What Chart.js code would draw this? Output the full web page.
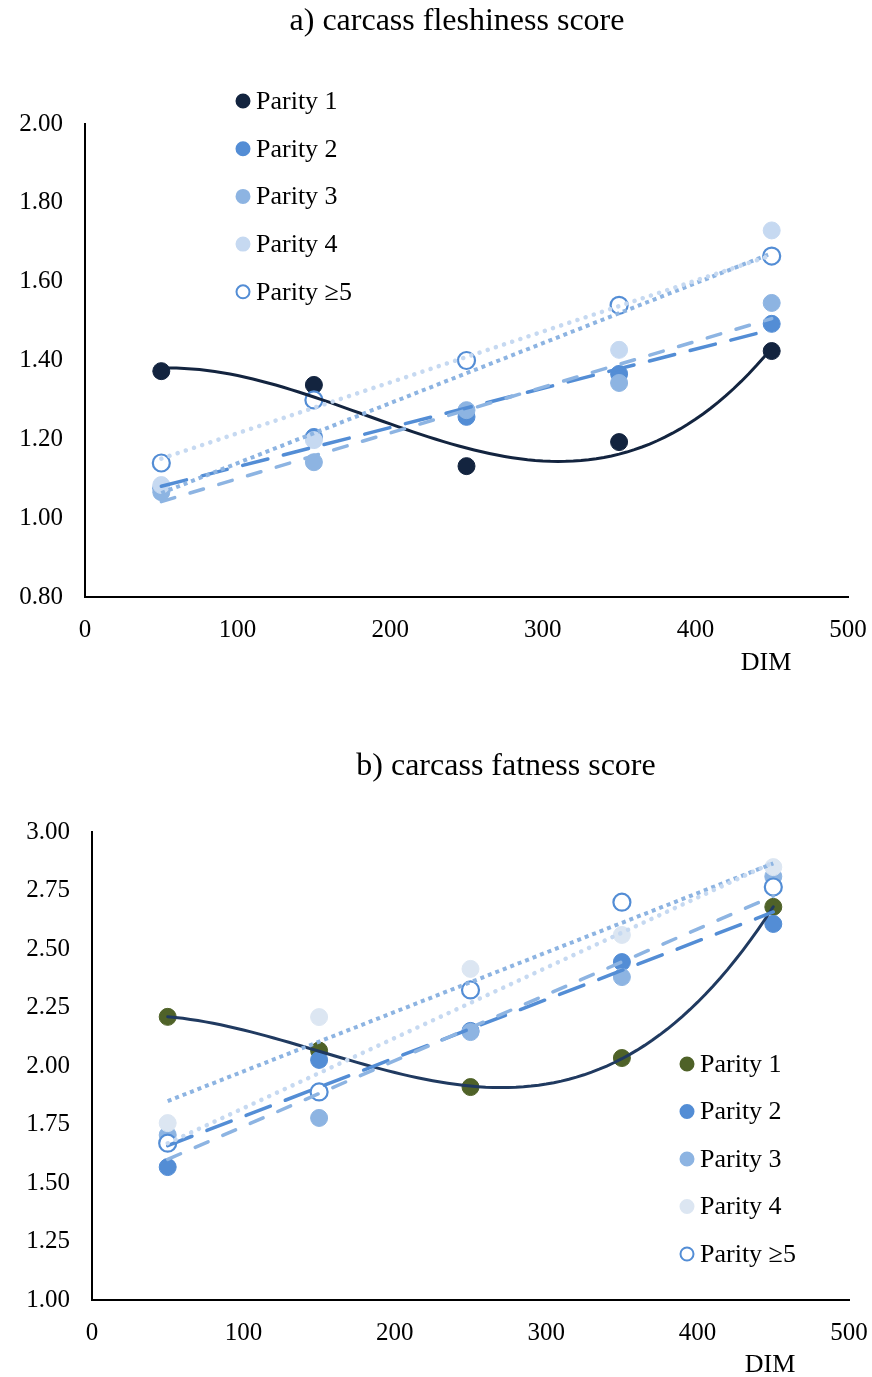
<!DOCTYPE html>
<html>
<head>
<meta charset="utf-8">
<script src="https://cdn.jsdelivr.net/npm/chart.js@4.4.1/dist/chart.umd.min.js"></script>
<style>
  body { margin: 0; background: #fff; }
  #wrap { position: relative; width: 872px; height: 1377px; }
  canvas { position: absolute; left: 0; }
  #fleshy { top: 0; }
  #fatness { top: 700px; }
</style>
</head>
<body>
<div id="wrap">
  <canvas id="fleshy" width="872" height="700"></canvas>
  <canvas id="fatness" width="872" height="677"></canvas>
</div>
<script>
// days in milk where each group was scored
var dim = [50, 150, 250, 350, 450];
var parityNames = ['Parity 1', 'Parity 2', 'Parity 3', 'Parity 4', 'Parity \u22655'];

// a) carcass fleshiness score
var fleshP1 = [1.373, 1.338, 1.132, 1.193, 1.424];
var fleshP2 = [1.076, 1.206, 1.257, 1.366, 1.493];
var fleshP3 = [1.066, 1.142, 1.274, 1.343, 1.546];
var fleshP4 = [1.084, 1.198, 1.400, 1.427, 1.730];
var fleshP5 = [1.140, 1.300, 1.400, 1.540, 1.665];

// b) carcass fatness score
var fatP1 = [2.210, 2.066, 1.910, 2.034, 2.680];
var fatP2 = [1.568, 2.026, 2.150, 2.444, 2.607];
var fatP3 = [1.705, 1.778, 2.145, 2.380, 2.810];
var fatP4 = [1.756, 2.209, 2.415, 2.560, 2.850];
var fatP5 = [1.670, 1.889, 2.325, 2.700, 2.765];

var FONT = '"Liberation Serif", "Times New Roman", serif';

// least squares polynomial fit (like an Excel trendline)
function polyFit(xs, ys, deg) {
    var n = deg + 1, A = [], b = [];
    for (var i = 0; i < n; i++) {
        A.push(new Array(n).fill(0));
        b.push(0);
    }
    xs.forEach(function (x, k) {
        var s = (x - 250) / 100;
        for (var i = 0; i < n; i++) {
            for (var j = 0; j < n; j++) A[i][j] += Math.pow(s, i + j);
            b[i] += Math.pow(s, i) * ys[k];
        }
    });
    for (var c = 0; c < n; c++) {
        for (var r = c + 1; r < n; r++) {
            var f = A[r][c] / A[c][c];
            for (var j = c; j < n; j++) A[r][j] -= f * A[c][j];
            b[r] -= f * b[c];
        }
    }
    var coef = new Array(n).fill(0);
    for (var r = n - 1; r >= 0; r--) {
        var sum = b[r];
        for (var j = r + 1; j < n; j++) sum -= A[r][j] * coef[j];
        coef[r] = sum / A[r][r];
    }
    return function (x) {
        var s = (x - 250) / 100, v = 0;
        for (var i = 0; i < n; i++) v += coef[i] * Math.pow(s, i);
        return v;
    };
}

function trendPoints(ys, deg) {
    var f = polyFit(dim, ys, deg);
    var pts = [];
    var step = deg === 1 ? 400 : 5;
    for (var x = dim[0]; x <= dim[dim.length - 1]; x += step) pts.push({x: x, y: f(x)});
    return pts;
}

function pts(ys) {
    return dim.map(function (x, i) { return {x: x, y: ys[i]}; });
}

function markers(label, ys, fill, edge, order) {
    return {
        label: label, data: pts(ys), order: order,
        backgroundColor: fill, borderColor: edge,
        pointRadius: 8.5, pointBorderWidth: edge === fill ? 1 : 2.2,
        pointHoverRadius: 8.5, showLine: false
    };
}

function trend(ys, deg, color, width, dash, cap, order) {
    return {
        trend: true, data: trendPoints(ys, deg), order: order,
        showLine: true, pointRadius: 0, borderColor: color, borderWidth: width,
        borderDash: dash, borderCapStyle: cap, tension: 0, fill: false
    };
}

// titles, axis caption and the in-plot legend
var extraText = {
    id: 'extraText',
    afterDraw: function (chart, args, opts) {
        var ctx = chart.ctx;
        ctx.save();
        ctx.textBaseline = 'middle';
        ctx.fillStyle = '#000';
        opts.items.forEach(function (it) {
            ctx.font = it.size + 'px ' + FONT;
            ctx.textAlign = 'center';
            ctx.fillText(it.text, it.x, it.y);
        });
        var lg = opts.legend, row = 0;
        ctx.font = lg.size + 'px ' + FONT;
        chart.data.datasets.forEach(function (ds) {
            if (ds.trend) return;
            var y = lg.y + row * lg.gap;
            ctx.beginPath();
            ctx.arc(lg.x, y, 6.5, 0, 2 * Math.PI);
            ctx.fillStyle = ds.backgroundColor;
            ctx.fill();
            ctx.lineWidth = 2;
            ctx.strokeStyle = ds.borderColor;
            ctx.stroke();
            ctx.fillStyle = '#000';
            ctx.textAlign = 'left';
            ctx.fillText(ds.label, lg.x + 13, y + 1);
            row++;
        });
        ctx.restore();
    }
};

function axes(yMin, yMax, yStep, yWidth, xHeight) {
    var tickFont = {family: FONT, size: 25};
    var line = {display: true, color: '#000', width: 2};
    return {
        x: {
            type: 'linear', min: 0, max: 500,
            ticks: {stepSize: 100, color: '#000', font: tickFont, padding: 18, maxRotation: 0},
            grid: {display: true, drawOnChartArea: false, drawTicks: false},
            border: line,
            afterFit: function (s) {
                s.height = xHeight;
                s.paddingLeft = 0;
                s.paddingRight = 0;
            }
        },
        y: {
            type: 'linear', min: yMin, max: yMax,
            ticks: {stepSize: yStep, color: '#000', font: tickFont, padding: 22,
                callback: function (v) { return Number(v).toFixed(2); }},
            grid: {display: true, drawOnChartArea: false, drawTicks: false},
            border: line,
            afterFit: function (s) { s.width = yWidth; }
        }
    };
}

var navyTop = '#13243F', olive = '#4F6228', navyBot = '#203A60';
var blue2 = '#538DD5', blue3 = '#8DB4E2', light4 = '#C6D9F1', pale4 = '#DCE6F2';

new Chart(document.getElementById('fleshy'), {
    type: 'scatter',
    data: {
        datasets: [
            markers(parityNames[0], fleshP1, navyTop, navyTop, 20),
            markers(parityNames[1], fleshP2, blue2, blue2, 19),
            markers(parityNames[2], fleshP3, blue3, blue3, 18),
            markers(parityNames[3], fleshP4, light4, light4, 17),
            markers(parityNames[4], fleshP5, '#ffffff', blue2, 16),
            trend(fleshP1, 3, navyTop, 3, [], 'round', 10),
            trend(fleshP2, 1, blue2, 3.5, [26, 16], 'round', 9),
            trend(fleshP3, 1, blue3, 3.5, [14, 16], 'round', 8),
            trend(fleshP4, 1, blue3, 4, [4, 4], 'butt', 7),
            trend(fleshP5, 1, light4, 4.5, [0.1, 8.5], 'round', 6)
        ]
    },
    options: {
        responsive: false,
        animation: false,
        layout: {autoPadding: false, padding: {top: 124, right: 24, left: 0, bottom: 0}},
        scales: axes(0.8, 2.0, 0.2, 85, 103),
        plugins: {
            legend: {display: false},
            tooltip: {enabled: false},
            extraText: {
                items: [
                    {text: 'a) carcass fleshiness score', x: 457, y: 22, size: 32},
                    {text: 'DIM', x: 766, y: 663, size: 26}
                ],
                legend: {x: 243, y: 101, gap: 47.7, size: 26}
            }
        }
    },
    plugins: [extraText]
});

new Chart(document.getElementById('fatness'), {
    type: 'scatter',
    data: {
        datasets: [
            markers(parityNames[0], fatP1, olive, olive, 20),
            markers(parityNames[1], fatP2, blue2, blue2, 19),
            markers(parityNames[2], fatP3, blue3, blue3, 18),
            markers(parityNames[3], fatP4, pale4, pale4, 17),
            markers(parityNames[4], fatP5, '#ffffff', blue2, 16),
            trend(fatP1, 3, navyBot, 3, [], 'round', 10),
            trend(fatP2, 1, blue2, 3.5, [26, 16], 'round', 9),
            trend(fatP3, 1, blue3, 3.5, [14, 16], 'round', 8),
            trend(fatP4, 1, blue3, 4, [4, 4], 'butt', 7),
            trend(fatP5, 1, light4, 4.5, [0.1, 8.5], 'round', 6)
        ]
    },
    options: {
        responsive: false,
        animation: false,
        layout: {autoPadding: false, padding: {top: 132, right: 23, left: 0, bottom: 0}},
        scales: axes(1.0, 3.0, 0.25, 92, 77),
        plugins: {
            legend: {display: false},
            tooltip: {enabled: false},
            extraText: {
                items: [
                    {text: 'b) carcass fatness score', x: 506, y: 67, size: 32},
                    {text: 'DIM', x: 770, y: 665, size: 26}
                ],
                legend: {x: 687, y: 364, gap: 47.5, size: 26}
            }
        }
    },
    plugins: [extraText]
});
</script>
</body>
</html>
